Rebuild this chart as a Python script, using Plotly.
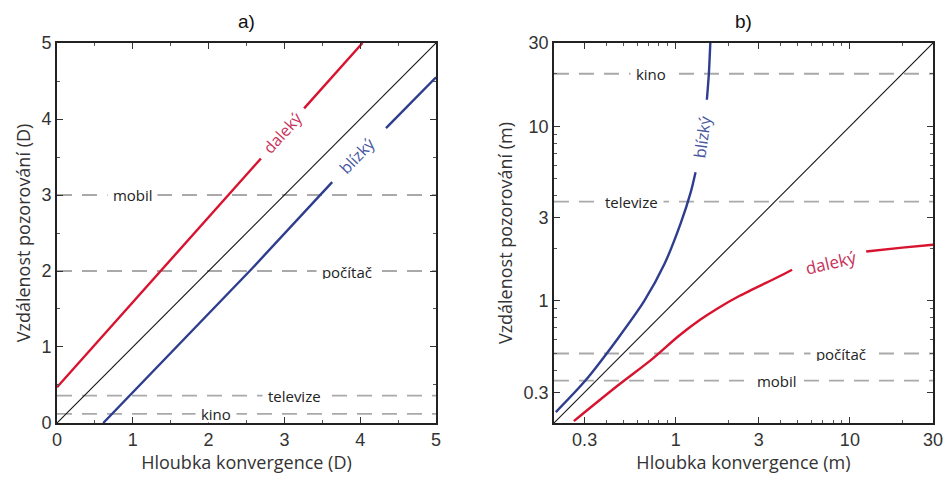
import math
import plotly.graph_objects as go

# ---------------- data: panel a) (diopters) ----------------
a_diag_x = [0, 5]
a_diag_y = [0, 5]
a_far1_x = [0, 1.37, 2.23, 2.69]
a_far1_y = [0.47, 2.0, 2.97, 3.48]
a_far2_x = [3.26, 4.03]
a_far2_y = [4.14, 5.0]
a_near1_x = [0.61, 2.58, 3.63]
a_near1_y = [0.0, 2.04, 3.17]
a_near2_x = [4.34, 5.0]
a_near2_y = [3.88, 4.55]
a_ref_names = ["mobil", "počítač", "televize", "kino"]
a_ref_y = [3.0, 2.0, 0.36, 0.12]
a_ref_label_x = [0.99, 3.83, 3.13, 2.1]
a_ticks = [0, 1, 2, 3, 4, 5]

# ---------------- data: panel b) (meters) ----------------
b_diag_x = [0.2, 30]
b_diag_y = [0.2, 30]
b_far1_x = [0.26, 0.469, 0.723, 1.04, 1.38, 1.72, 2.33, 3.92, 4.66]
b_far1_y = [0.205, 0.33, 0.46, 0.63, 0.78, 0.90, 1.07, 1.38, 1.51]
b_far2_x = [12.4, 20, 30]
b_far2_y = [1.92, 2.02, 2.1]
b_near1_x = [0.205, 0.303, 0.469, 0.66, 0.86, 1.07, 1.22, 1.30]
b_near1_y = [0.231, 0.35, 0.616, 1.0, 1.62, 2.8, 4.2, 5.46]
b_near2_x = [1.51, 1.55, 1.58]
b_near2_y = [14.2, 20, 30]
b_ref_names = ["kino", "televize", "počítač", "mobil"]
b_ref_y = [20, 3.7, 0.5, 0.35]
b_ref_label_x = [0.72, 0.56, 8.9, 3.8]
b_ticks = [0.3, 1, 3, 10, 30]
b_ticktext = ["0.3", "1", "3", "10", "30"]

RED = "#d8132f"
RED_T = "#c93059"
BLUE = "#2e3d8e"
BLUE_T = "#4656a0"
GRAY = "#a9a9a9"
TXT = "#222222"
LABEL_FONT = "Open Sans"

fig = go.Figure()

def line(x, y, color, width, xa, ya, dash=None, shape="linear"):
    ld = dict(color=color, width=width, dash=dash, shape=shape)
    if shape == "spline":
        ld["smoothing"] = 0.8
    fig.add_trace(go.Scatter(x=x, y=y, mode="lines", xaxis=xa, yaxis=ya,
                             line=ld, showlegend=False, hoverinfo="skip"))

# reference dashed lines (drawn first, under the curves)
for yv in a_ref_y:
    line([0, 5], [yv, yv], GRAY, 1.8, "x", "y", dash="15px,10px")
for yv in b_ref_y:
    line([0.2, 30], [yv, yv], GRAY, 1.8, "x2", "y2", dash="15px,10px")

# panel a
line(a_diag_x, a_diag_y, "#111111", 1.1, "x", "y")
line(a_far1_x, a_far1_y, RED, 2.4, "x", "y")
line(a_far2_x, a_far2_y, RED, 2.4, "x", "y")
line(a_near1_x, a_near1_y, BLUE, 2.4, "x", "y")
line(a_near2_x, a_near2_y, BLUE, 2.4, "x", "y")

# panel b
line(b_diag_x, b_diag_y, "#111111", 1.1, "x2", "y2")
line(b_far1_x, b_far1_y, RED, 2.4, "x2", "y2", shape="spline")
line(b_far2_x, b_far2_y, RED, 2.4, "x2", "y2", shape="spline")
line(b_near1_x, b_near1_y, BLUE, 2.4, "x2", "y2", shape="spline")
line(b_near2_x, b_near2_y, BLUE, 2.4, "x2", "y2", shape="spline")

ann = []
lab_font = dict(family=LABEL_FONT, size=15, color=TXT)
for name, yv, xv in zip(a_ref_names, a_ref_y, a_ref_label_x):
    ann.append(dict(x=xv, y=yv, xref="x", yref="y", text="&nbsp;" + name + "&nbsp;",
                    showarrow=False, bgcolor="white", borderpad=1, height=15,
                    font=lab_font))
for name, yv, xv in zip(b_ref_names, b_ref_y, b_ref_label_x):
    ann.append(dict(x=math.log10(xv), y=math.log10(yv), xref="x2", yref="y2",
                    text="&nbsp;" + name + "&nbsp;", showarrow=False, bgcolor="white",
                    borderpad=1, height=15, font=lab_font))

# curve labels
ann.append(dict(x=2.97, y=3.82, xref="x", yref="y", text="daleký", showarrow=False,
                textangle=-48, font=dict(family=LABEL_FONT, size=16, color=RED_T)))
ann.append(dict(x=3.97, y=3.52, xref="x", yref="y", text="blízký", showarrow=False,
                textangle=-46, font=dict(family=LABEL_FONT, size=16, color=BLUE_T)))
ann.append(dict(x=math.log10(7.8), y=math.log10(1.66), xref="x2", yref="y2", text="daleký",
                showarrow=False, textangle=-13,
                font=dict(family=LABEL_FONT, size=17, color=RED_T)))
ann.append(dict(x=math.log10(1.42), y=math.log10(8.7), xref="x2", yref="y2", text="blízký",
                showarrow=False, textangle=-82,
                font=dict(family=LABEL_FONT, size=16, color=BLUE_T)))

# panel titles
title_y = 1 - 22 / 478
ann.append(dict(x=0.5, y=title_y, xref="x domain", yref="paper", text="a)", showarrow=False,
                yanchor="middle",
                font=dict(family="Liberation Sans", size=19, color="#111")))
ann.append(dict(x=0.5, y=title_y, xref="x2 domain", yref="paper", text="b)", showarrow=False,
                yanchor="middle",
                font=dict(family="Liberation Sans", size=19, color="#111")))

axis_common = dict(showline=True, linecolor="#222", linewidth=1.6, mirror="ticks",
                   ticks="inside", ticklen=6, tickcolor="#333", tickwidth=1.2,
                   showgrid=False, zeroline=False, automargin=False,
                   tickfont=dict(family="Liberation Sans", size=18, color="#333"),
                   title_font=dict(family=LABEL_FONT, size=18, color="#333"))

fig.update_layout(
    width=945, height=478, margin=dict(l=0, r=0, t=0, b=0),
    paper_bgcolor="white", plot_bgcolor="white", showlegend=False,
    annotations=ann,
    xaxis=dict(domain=[0.0603, 0.4614], range=[0, 5], tickvals=a_ticks,
               minor=dict(ticks="inside", ticklen=3, dtick=0.5, tickcolor="#555"),
               title=dict(text="Hloubka konvergence (D)", standoff=2), anchor="y",
               **axis_common),
    yaxis=dict(domain=[0.1151, 0.9100], range=[0, 5], tickvals=a_ticks,
               minor=dict(ticks="inside", ticklen=3, dtick=0.5, tickcolor="#555"),
               title=dict(text="Vzdálenost pozorování (D)", standoff=6), anchor="x",
               **axis_common),
    xaxis2=dict(domain=[0.5862, 0.9873], type="log",
                range=[math.log10(0.2), math.log10(30)], tickvals=b_ticks,
                ticktext=b_ticktext,
                minor=dict(ticks="inside", ticklen=3, dtick="D1", tickcolor="#555"),
                title=dict(text="Hloubka konvergence (m)", standoff=2), anchor="y2",
                **axis_common),
    yaxis2=dict(domain=[0.1151, 0.9100], type="log",
                range=[math.log10(0.2), math.log10(30)], tickvals=b_ticks,
                ticktext=b_ticktext,
                minor=dict(ticks="inside", ticklen=3, dtick="D1", tickcolor="#555"),
                title=dict(text="Vzdálenost pozorování (m)", standoff=6), anchor="x2",
                **axis_common),
)

fig.write_html("out.html")
